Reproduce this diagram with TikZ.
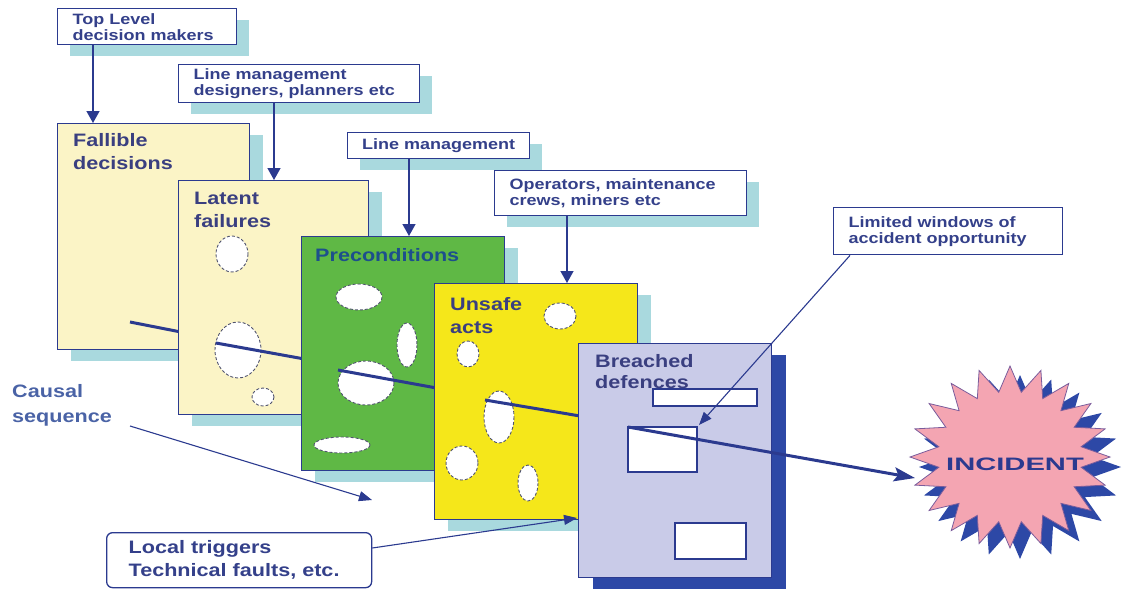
\documentclass[tikz,border=0pt]{standalone}
\usepackage{fontspec}
\setmainfont{Liberation Sans}[FakeStretch=1.2]
\usetikzlibrary{arrows.meta,shadows,calc}

\definecolor{navy}{HTML}{2B3A8F}
\definecolor{labtext}{HTML}{34408A}
\definecolor{shade}{HTML}{A9D9DE}
\definecolor{cream}{HTML}{FBF4C6}
\definecolor{leaf}{HTML}{5FB845}
\definecolor{lemon}{HTML}{F5E71A}
\definecolor{lilac}{HTML}{C9CBE8}
\definecolor{deepblue}{HTML}{2D48A6}
\definecolor{rose}{HTML}{F4A5B2}
\definecolor{roseline}{HTML}{7A5C9C}
\definecolor{holeline}{HTML}{50536E}
\definecolor{paneltext}{HTML}{3A3F80}
\definecolor{pretext}{HTML}{1D4F8C}
\definecolor{causal}{HTML}{4A63A6}

\tikzset{
  lbl/.style={draw=navy, fill=white, line width=1.4pt, inner xsep=15pt, inner ysep=0pt,
    align=flush left, anchor=north west, text=labtext,
    font=\bfseries\fontsize{15}{16}\selectfont},
  lblshadow/.style={general shadow={fill=shade, shadow xshift=12pt, shadow yshift=-11pt}},
  panel/.style={draw=navy, line width=1.4pt, anchor=north west, inner sep=0pt},
  pshadow/.style={general shadow={fill=shade, shadow xshift=13pt, shadow yshift=-11pt}},
  title/.style={anchor=north west, inner sep=0pt, align=left, text=paneltext,
    font=\bfseries\fontsize{18}{23}\selectfont},
  hole/.style={fill=white, draw=holeline, densely dashed, line width=0.9pt},
  window/.style={fill=white, draw=navy, line width=1.3pt},
  causeline/.style={draw=navy, line width=3pt},
  downarrow/.style={draw=navy, line width=1.4pt, -{Triangle[length=12pt,width=13pt]}},
  thinarrow/.style={draw=navy, line width=1.1pt, -{Triangle[length=13pt,width=10pt]}},
}

\begin{document}
\begin{tikzpicture}[x=1pt,y=-1pt]
\useasboundingbox (0,0) rectangle (1124,590);

% ---- who makes the decisions at each layer
\node[lbl, lblshadow, text width=149pt, minimum height=36pt] (tl) at (57,8) {Top Level\\decision makers};
\node[lbl, lblshadow, text width=211pt, minimum height=38pt] (lmd) at (178,64) {Line management\\designers, planners etc};
\node[lbl, lblshadow, inner xsep=0pt, minimum width=182pt, minimum height=26pt] (lm) at (347,132) {Line management};
\node[lbl, lblshadow, text width=222pt, minimum height=45pt] (op) at (494,170) {Operators, maintenance\\crews, miners etc};
\node[lbl, text width=199pt, minimum height=47pt] (lw) at (833,207) {Limited windows of\\accident opportunity};

% ---- layer 1: fallible decisions
\node[panel, pshadow, fill=cream, minimum width=192pt, minimum height=226pt] (fd) at (57,123) {};
\node[title] (fdt) at (73,133) {Fallible\\decisions};
\coordinate (c0) at (130,322);
\coordinate (c0e) at (186,333);
\draw[causeline] (c0) -- (c0e);

% ---- layer 2: latent failures
\node[panel, pshadow, fill=cream, minimum width=190pt, minimum height=234pt] (lf) at (178,180) {};
\node[title] (lft) at (194,192) {Latent\\failures};
\draw[hole] (232,254) ellipse [x radius=16, y radius=18];
\draw[hole] (238,350) ellipse [x radius=23, y radius=28];
\draw[hole] (263,397) ellipse [x radius=11, y radius=9];
\coordinate (c1) at (216,343);
\coordinate (c1e) at (310,360);
\draw[causeline] (c1) -- (c1e);

% ---- layer 3: preconditions
\node[panel, pshadow, fill=leaf, minimum width=203pt, minimum height=234pt] (pc) at (301,236) {};
\node[title, text=pretext] (pct) at (315,248) {Preconditions};
\draw[hole] (359,297) ellipse [x radius=23, y radius=13];
\draw[hole] (407,345) ellipse [x radius=10, y radius=22];
\draw[hole] (366,383) ellipse [x radius=28, y radius=22];
\draw[hole] (342,445) ellipse [x radius=28, y radius=8];
\coordinate (c2) at (338,370);
\coordinate (c2e) at (442,389);
\draw[causeline] (c2) -- (c2e);

% ---- layer 4: unsafe acts
\node[panel, pshadow, fill=lemon, minimum width=203pt, minimum height=236pt] (ua) at (434,283) {};
\node[title] (uat) at (450,297) {Unsafe\\acts};
\draw[hole] (560,316) ellipse [x radius=16, y radius=13];
\draw[hole] (468,354) ellipse [x radius=11, y radius=13];
\draw[hole] (499,417) ellipse [x radius=15, y radius=26];
\draw[hole] (462,463) ellipse [x radius=16, y radius=17];
\draw[hole] (528,483) ellipse [x radius=10, y radius=18];
\coordinate (c3) at (485,400);
\coordinate (c3e) at (586,417);
\draw[causeline] (c3) -- (c3e);

% ---- layer 5: breached defences
\node[panel, fill=lilac, minimum width=193pt, minimum height=234pt,
      general shadow={fill=deepblue, shadow xshift=14pt, shadow yshift=-11pt}] (bd) at (578,343) {};
\node[title, font=\bfseries\fontsize{18}{21.5}\selectfont] (bdt) at (595,354) {Breached\\defences};
\draw[window] (653,389) rectangle (757,406);
\draw[window] (628,427) rectangle (697,472);
\draw[window] (675,523) rectangle (746,559);

% ---- the incident
\path[fill=deepblue] plot[variable=\k, samples at={0,...,39}]
  ({1020+ifthenelse(mod(\k,2)==0,1,0.72)*101*cos(\k*9+90)},
   {467+ifthenelse(mod(\k,2)==0,1,0.72)*92*sin(\k*9+90)}) -- cycle;
\path[fill=rose, draw=roseline, line width=0.8pt] plot[variable=\k, samples at={0,...,39}]
  ({1010+ifthenelse(mod(\k,2)==0,1,0.72)*100*cos(\k*9+90)},
   {457+ifthenelse(mod(\k,2)==0,1,0.72)*91*sin(\k*9+90)}) -- cycle;
\node[font=\bfseries\fontsize{18}{20}\selectfont, text=navy] (inc) at (1015,464) {\scalebox{1.35}[1]{INCIDENT}};

% ---- trajectory through the holes
\coordinate (c4) at (628,427);
\coordinate (hit) at (915,478);
\draw[causeline, -{Stealth[length=21pt,width=14pt,inset=4pt]}] (c4) -- (hit);

% ---- arrows from the decision makers
\draw[downarrow] ($(tl.south west)+(36,0)$) -- ($(fd.north west)+(36,0)$);
\draw[downarrow] ($(lmd.south west)+(96,0)$) -- ($(lf.north west)+(96,0)$);
\draw[downarrow] ($(lm.south west)+(62,0)$) -- ($(pc.north west)+(108,0)$);
\draw[downarrow] ($(op.south west)+(73,0)$) -- ($(ua.north west)+(133,0)$);
\coordinate (wtip) at (699,425);
\draw[thinarrow] ($(lw.south west)+(17,0)$) -- (wtip);

% ---- causal sequence and local triggers
\node[title, text=causal, font=\bfseries\fontsize{18}{25}\selectfont] (cs) at (12,384) {Causal\\sequence};
\coordinate (cs1) at (130,426);
\coordinate (cs2) at (372,500);
\draw[thinarrow] (cs1) -- (cs2);

\node[draw=navy, fill=white, line width=1.3pt, rounded corners=6pt, anchor=north west,
      inner xsep=22pt, inner ysep=0pt, text width=221pt, minimum height=55pt,
      align=flush left, text=labtext, font=\bfseries\fontsize{18}{23}\selectfont]
      (lt) at (106,532) {Local triggers\\Technical faults, etc.};
\coordinate (ttip) at (577,518);
\draw[thinarrow] ($(lt.north east)+(0,16)$) -- (ttip);
\end{tikzpicture}
\end{document}
